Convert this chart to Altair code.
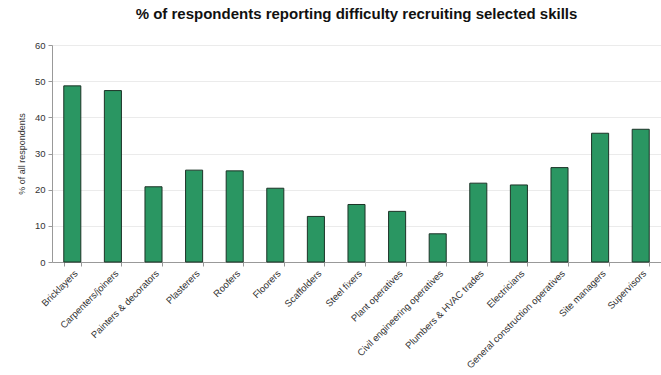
import altair as alt
import pandas as pd

skills = ["Bricklayers", "Carpenters/joiners", "Painters & decorators", "Plasterers", "Roofers",
          "Floorers", "Scaffolders", "Steel fixers", "Plant operatives", "Civil engineering operatives",
          "Plumbers & HVAC trades", "Electricians", "General construction operatives",
          "Site managers", "Supervisors"]
values = [48.7, 47.4, 20.8, 25.4, 25.2, 20.4, 12.6, 15.9, 14.0, 7.8, 21.8, 21.3, 26.1, 35.6, 36.7]

df = pd.DataFrame({"skill": skills, "pct": values})

chart = alt.Chart(df).mark_bar(
    color="#2a9662", stroke="#1c3327", strokeWidth=1
).encode(
    x=alt.X("skill:N", sort=skills,
            scale=alt.Scale(paddingInner=0.58, paddingOuter=0.29),
            axis=alt.Axis(title=None, labelAngle=-45, labelFontSize=9.5, labelColor="#333333",
                          labelFont="Liberation Sans", domainColor="#999999", tickColor="#999999",
                          tickBand="extent", tickSize=4, labelPadding=2, labelOverlap=False,
                          labelLimit=200)),
    y=alt.Y("pct:Q", scale=alt.Scale(domain=[0, 60]),
            axis=alt.Axis(title="% of all respondents", values=[0, 10, 20, 30, 40, 50, 60],
                          labelFontSize=9.5, labelColor="#333333", labelFont="Liberation Sans",
                          titleFontSize=9, titleFontWeight="normal", titleColor="#333333",
                          titleFont="Liberation Sans", titlePadding=8,
                          domainColor="#999999", tickColor="#999999", tickSize=4,
                          gridColor="#ebebeb", labelPadding=3)),
).properties(
    width=609, height=217,
    title=alt.TitleParams("% of respondents reporting difficulty recruiting selected skills",
                          fontSize=15, fontWeight="bold", font="Liberation Sans", color="#111111",
                          anchor="middle", offset=18),
    autosize=alt.AutoSizeParams(type="none"),
    padding={"left": 52, "top": 45, "right": 0, "bottom": 113},
).configure_view(stroke=None)

chart.save("out.html", embed_options={"renderer": "svg", "actions": False})
